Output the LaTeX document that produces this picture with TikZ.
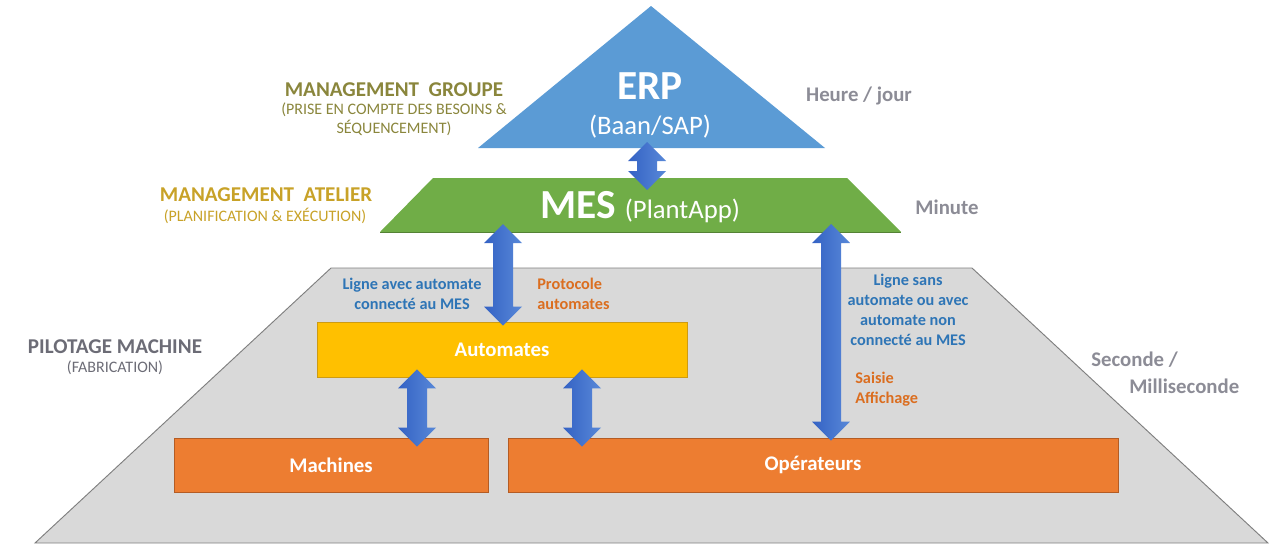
\documentclass[tikz,border=0pt]{standalone}
\usepackage{fontspec}
\setmainfont{Carlito}
\usetikzlibrary{calc}

\definecolor{erpblue}{RGB}{91,155,213}
\definecolor{mesgreen}{RGB}{112,173,71}
\definecolor{mesedge}{RGB}{84,130,53}
\definecolor{pilotgrey}{RGB}{217,217,217}
\definecolor{edgegrey}{RGB}{127,127,127}
\definecolor{autoyellow}{RGB}{255,192,0}
\definecolor{autoedge}{RGB}{205,155,20}
\definecolor{machorange}{RGB}{237,125,49}
\definecolor{machedge}{RGB}{180,92,36}
\definecolor{olivetxt}{RGB}{138,134,60}
\definecolor{goldtxt}{RGB}{200,162,40}
\definecolor{darkgreytxt}{RGB}{108,108,118}
\definecolor{greytxt}{RGB}{140,140,150}
\definecolor{bluetxt}{RGB}{46,117,182}
\definecolor{orangetxt}{RGB}{219,110,32}
\definecolor{arrowdark}{RGB}{52,98,196}
\definecolor{arrowlight}{RGB}{88,136,216}

\tikzset{
  updown/.style={left color=arrowdark, right color=arrowlight},
  headtxt/.style={font=\fontsize{15.8}{18}\selectfont\bfseries, inner sep=0pt},
  subtxt/.style={font=\fontsize{12}{14.25}\selectfont, align=center, inner sep=0pt},
  timetxt/.style={font=\fontsize{15.6}{19.5}\selectfont\bfseries, text=greytxt, inner sep=0pt},
  notetxt/.style={font=\fontsize{12.2}{15}\selectfont\bfseries, inner sep=0pt},
  boxtxt/.style={font=\fontsize{15.6}{18}\selectfont\bfseries, text=white},
  autobox/.style={boxtxt, fill=autoyellow, draw=autoedge, line width=0.6pt,
    minimum width=277.5pt, minimum height=41.25pt},
  machbox/.style={boxtxt, fill=machorange, draw=machedge, line width=0.6pt,
    minimum height=40.5pt},
}

% double arrow between two named tips (top, bottom)
\newcommand\biarrow[2]{%
  \shade[updown] (#1) -- ++(19,19) -- ++(-9,0) -- ($(#2)+(10,-19)$) -- ++(9,0)
    -- (#2) -- ++(-19,-19) -- ++(9,0) -- ($(#1)+(-10,19)$) -- ++(-9,0) -- cycle;}

\begin{document}
\begin{tikzpicture}[x=0.75pt,y=-0.75pt]
\useasboundingbox (0,0) rectangle (1280,558);

%Shape: Trapezoid (pilotage)
\draw[fill=pilotgrey, draw=edgegrey, line width=0.7pt] (35,543) -- (331,268) -- (972,268) -- (1268,543) -- cycle;
%Shape: Triangle (ERP)
\fill[erpblue] (478,148) -- (651,6) -- (825,148) -- cycle;
\coordinate (erp-base) at (651,148);
%Shape: Trapezoid (MES)
\fill[mesgreen] (380,232) -- (433,178) -- (847,178) -- (901,232) -- cycle;
\draw[mesedge, line width=0.7pt] (380,232) -- (901,232);
\coordinate (mes-top) at (640,178);
\coordinate (mes-bot) at (640,232);

% Boxes
\node[autobox] (auto) at (502,349.5) {Automates};
\node[machbox, minimum width=235.5pt] (mach) at (331,465) {Machines};
\node[machbox, minimum width=457.5pt] (ops) at (813,465) {Opérateurs};

% Arrow tips
\coordinate (erp-t) at ($(erp-base)+(-4,-6)$);
\coordinate (erp-b) at ($(mes-top)+(7,12)$);
\coordinate (lig-t) at ($(mes-bot)+(-137,-8)$);
\coordinate (lig-b) at ($(auto.north)+(1,4)$);
\coordinate (sai-t) at ($(mes-bot)+(191,-8)$);
\coordinate (sai-b) at ($(ops.north)+(18,3)$);
\coordinate (mach-t) at ($(auto.south)+(-85,-8)$);
\coordinate (mach-b) at ($(mach.north)+(86,9)$);
\coordinate (ops-t) at ($(auto.south)+(80,-8)$);
\coordinate (ops-b) at ($(ops.north)+(-231,9)$);

%Double arrows
\biarrow{erp-t}{erp-b}
\biarrow{lig-t}{lig-b}
\biarrow{sai-t}{sai-b}
\biarrow{mach-t}{mach-b}
\biarrow{ops-t}{ops-b}

% Text Node
\node[text=white, font=\fontsize{31}{33}\selectfont\bfseries, inner sep=0pt] (erp) at (650,86) {ERP};
\node[text=white, font=\fontsize{20}{22}\selectfont, inner sep=0pt] (baan) at (650,127) {(Baan/SAP)};
\node[text=white, inner sep=0pt] (mes) at (640,207) {\fontsize{31}{33}\selectfont\bfseries MES \fontsize{20}{22}\mdseries\selectfont(PlantApp)};

% Text Node
\node[headtxt, text=olivetxt] (grp) at (394,90) {MANAGEMENT~~GROUPE};
\node[subtxt, text=olivetxt, anchor=north] (grp-sub) at (394,103) {(PRISE EN COMPTE DES BESOINS \&\\SÉQUENCEMENT)};
\node[headtxt, text=goldtxt] (atl) at (266,195) {MANAGEMENT~~ATELIER};
\node[subtxt, text=goldtxt] (atl-sub) at (265,216) {(PLANIFICATION \& EXÉCUTION)};
\node[headtxt, text=darkgreytxt] (pil) at (115,347) {PILOTAGE MACHINE};
\node[subtxt, text=darkgreytxt] (pil-sub) at (115,368) {(FABRICATION)};

% Text Node
\node[timetxt] (hr) at (859,96) {Heure / jour};
\node[timetxt] (mn) at (947,207) {Minute};
\node[timetxt, anchor=west] (sec) at (1091,360) {Seconde /};
\node[timetxt, anchor=west] (msec) at (1129,386) {Milliseconde};

% Text Node
\node[notetxt, text=bluetxt, align=center] (lig-a) at (412,293.5) {Ligne avec automate\\connecté au MES};
\node[notetxt, text=orangetxt, align=left, anchor=west] (proto) at (537,293.5) {Protocole\\automates};
\node[notetxt, text=bluetxt, align=center] (lig-s) at (908,309.5) {Ligne sans\\automate ou avec\\automate non\\connecté au MES};
\node[notetxt, text=orangetxt, align=left, anchor=west] (sais) at (855,389.5) {Saisie\\Affichage};

\end{tikzpicture}
\end{document}
